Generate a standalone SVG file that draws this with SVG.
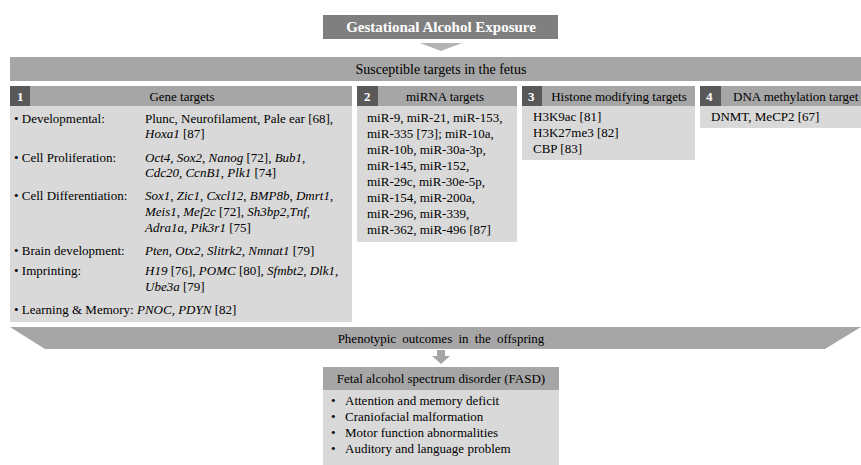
<svg xmlns="http://www.w3.org/2000/svg" width="861" height="465" viewBox="0 0 861 465">
<style>
text{font-family:"Liberation Serif","Times New Roman",serif;fill:#000;}
.t{font-size:13px;}
.h{font-size:13px;}
.w{fill:#fff;font-weight:bold;font-size:13px;}
.i{font-style:italic;}
.dark{fill:#7f7f7f;}
.mid{fill:#a6a6a6;}
.light{fill:#d9d9d9;}
.num{fill:#595959;}
</style>
<g id="connectors">
<polygon points="420,43 462,43 441,51" fill="#b3b3b3"/>
<polygon points="437,350 445,350 445,356 450,356 441,364 432,356 437,356" fill="#a6a6a6"/>
</g>
<g id="exposure">
<rect x="323" y="15" width="235" height="24" class="dark"/>
<text x="441" y="32" text-anchor="middle" class="w" style="font-size:15px">Gestational Alcohol Exposure</text>
</g>
<g id="susceptible">
<rect x="10" y="57" width="851" height="24" class="mid"/>
<text x="441" y="74" text-anchor="middle" style="font-size:14px">Susceptible targets in the fetus</text>
</g>
<g id="gene-targets">
<rect x="10" y="86" width="342" height="20" class="mid"/>
<rect x="10" y="86" width="20" height="20" class="num"/>
<rect x="10" y="106" width="342" height="216" class="light"/>
<text x="17" y="101" class="w">1</text>
<text x="182" y="101" text-anchor="middle" class="h">Gene targets</text>
<g class="t">
<text x="14" y="123">• Developmental:</text>
<text x="145" y="123">Plunc, Neurofilament, Pale ear [68],</text>
<text x="145" y="138"><tspan class="i">Hoxa1</tspan> [87]</text>
<text x="14" y="162">• Cell Proliferation:</text>
<text x="145" y="162"><tspan class="i">Oct4</tspan>, <tspan class="i">Sox2</tspan>, <tspan class="i">Nanog</tspan> [72], <tspan class="i">Bub1</tspan>,</text>
<text x="145" y="177"><tspan class="i">Cdc20</tspan>, <tspan class="i">CcnB1</tspan>, <tspan class="i">Plk1</tspan> [74]</text>
<text x="14" y="200">• Cell Differentiation:</text>
<text x="145" y="200"><tspan class="i">Sox1</tspan>, <tspan class="i">Zic1</tspan>, <tspan class="i">Cxcl12</tspan>, <tspan class="i">BMP8b</tspan>, <tspan class="i">Dmrt1</tspan>,</text>
<text x="145" y="216"><tspan class="i">Meis1</tspan>, <tspan class="i">Mef2c</tspan> [72], <tspan class="i">Sh3bp2</tspan>,<tspan class="i">Tnf</tspan>,</text>
<text x="145" y="232"><tspan class="i">Adra1a</tspan>, <tspan class="i">Pik3r1</tspan> [75]</text>
<text x="14" y="255">• Brain development:</text>
<text x="145" y="255"><tspan class="i">Pten</tspan>, <tspan class="i">Otx2</tspan>, <tspan class="i">Slitrk2</tspan>, <tspan class="i">Nmnat1</tspan> [79]</text>
<text x="14" y="275">• Imprinting:</text>
<text x="145" y="275"><tspan class="i">H19</tspan> [76], <tspan class="i">POMC</tspan> [80], <tspan class="i">Sfmbt2</tspan>, <tspan class="i">Dlk1</tspan>,</text>
<text x="145" y="291"><tspan class="i">Ube3a</tspan> [79]</text>
<text x="14" y="314">• Learning &amp; Memory: <tspan class="i">PNOC, PDYN</tspan>  [82]</text>
</g>
</g>
<g id="mirna-targets">
<rect x="357" y="86" width="160" height="20" class="mid"/>
<rect x="357" y="86" width="21" height="20" class="num"/>
<rect x="357" y="106" width="160" height="136" class="light"/>
<text x="364" y="101" class="w">2</text>
<text x="445" y="101" text-anchor="middle" class="h">miRNA targets</text>
<g class="t">
<text x="367" y="122">miR-9, miR-21, miR-153,</text>
<text x="367" y="138">miR-335 [73]; miR-10a,</text>
<text x="367" y="154">miR-10b, miR-30a-3p,</text>
<text x="367" y="170">miR-145, miR-152,</text>
<text x="367" y="186">miR-29c, miR-30e-5p,</text>
<text x="367" y="202">miR-154, miR-200a,</text>
<text x="367" y="218">miR-296, miR-339,</text>
<text x="367" y="234">miR-362, miR-496 [87]</text>
</g>
</g>
<g id="histone-targets">
<rect x="522" y="86" width="173" height="20" class="mid"/>
<rect x="522" y="86" width="20" height="20" class="num"/>
<rect x="522" y="106" width="173" height="54" class="light"/>
<text x="528" y="101" class="w">3</text>
<text x="619" y="101" text-anchor="middle" class="h">Histone modifying targets</text>
<g class="t">
<text x="533" y="121">H3K9ac [81]</text>
<text x="533" y="137">H3K27me3 [82]</text>
<text x="533" y="153">CBP [83]</text>
</g>
</g>
<g id="dna-methylation-targets">
<rect x="700" y="86" width="161" height="20" class="mid"/>
<rect x="700" y="86" width="21" height="20" class="num"/>
<rect x="700" y="106" width="161" height="22" class="light"/>
<text x="706" y="101" class="w">4</text>
<text x="733" y="101" class="h">DNA methylation target</text>
<text x="711" y="121" class="t">DNMT, MeCP2 [67]</text>
</g>
<g id="phenotypic">
<polygon points="10,327 861,327 825,349 45,349" class="mid"/>
<text x="441" y="343" text-anchor="middle" class="t" style="word-spacing:3px">Phenotypic outcomes in the offspring</text>
</g>
<g id="fasd">
<rect x="323" y="367" width="236" height="23" class="mid"/>
<rect x="323" y="390" width="236" height="75" class="light"/>
<text x="441" y="383" text-anchor="middle" class="t">Fetal alcohol spectrum disorder (FASD)</text>
<g class="t">
<text x="331" y="405">•</text><text x="345" y="405">Attention and memory deficit</text>
<text x="331" y="421">•</text><text x="345" y="421">Craniofacial malformation</text>
<text x="331" y="437">•</text><text x="345" y="437">Motor function  abnormalities</text>
<text x="331" y="453">•</text><text x="345" y="453">Auditory and language problem</text>
</g>
</g>
</svg>
